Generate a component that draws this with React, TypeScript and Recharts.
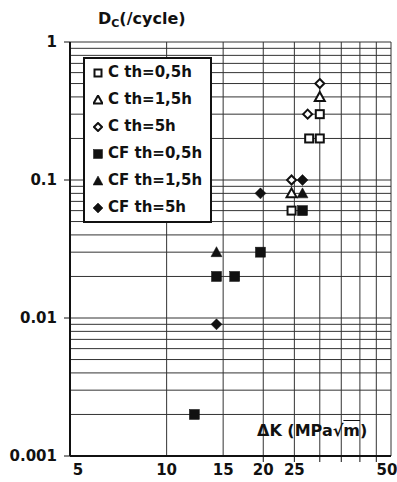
import { ScatterChart, Scatter, XAxis, YAxis, CartesianGrid, Legend } from "recharts";

// ΔK (MPa√m) vs Dc (/cycle)
const cTh05 = [
  { k: 24.5, d: 0.06 },
  { k: 27.8, d: 0.2 },
  { k: 30, d: 0.2 },
  { k: 30, d: 0.3 },
];
const cTh15 = [
  { k: 24.5, d: 0.08 },
  { k: 30, d: 0.4 },
];
const cTh5 = [
  { k: 24.5, d: 0.1 },
  { k: 27.5, d: 0.3 },
  { k: 30, d: 0.5 },
];
const cfTh05 = [
  { k: 12.2, d: 0.002 },
  { k: 14.3, d: 0.02 },
  { k: 16.3, d: 0.02 },
  { k: 19.6, d: 0.03 },
  { k: 26.5, d: 0.06 },
];
const cfTh15 = [
  { k: 14.3, d: 0.03 },
  { k: 26.5, d: 0.08 },
];
const cfTh5 = [
  { k: 14.3, d: 0.009 },
  { k: 19.6, d: 0.08 },
  { k: 26.5, d: 0.1 },
];

const xTicks = [5, 10, 15, 20, 25, 30, 35, 40, 45, 50];
const xTickLabels = [5, 10, 15, 20, 25, 50];
const xTickMarks = [20, 25, 30, 35, 40, 45];

const yTicks = [
  0.001, 0.002, 0.003, 0.004, 0.005, 0.006, 0.007, 0.008, 0.009,
  0.01, 0.02, 0.03, 0.04, 0.05, 0.06, 0.07, 0.08, 0.09,
  0.1, 0.2, 0.3, 0.4, 0.5, 0.6, 0.7, 0.8, 0.9, 1,
];
const yTickLabels = [0.001, 0.01, 0.1, 1];
const yTickText = ["0.001", "0.01", "0.1", "1"];

type Kind = "square" | "triangle" | "diamond";

const series: { name: string; data: { k: number; d: number }[]; kind: Kind; filled: boolean }[] = [
  { name: "C th=0,5h", data: cTh05, kind: "square", filled: false },
  { name: "C th=1,5h", data: cTh15, kind: "triangle", filled: false },
  { name: "C th=5h", data: cTh5, kind: "diamond", filled: false },
  { name: "CF th=0,5h", data: cfTh05, kind: "square", filled: true },
  { name: "CF th=1,5h", data: cfTh15, kind: "triangle", filled: true },
  { name: "CF th=5h", data: cfTh5, kind: "diamond", filled: true },
];

const FONT = "'DejaVu Sans', Arial, sans-serif";
const INK = "#111";

function Marker({ cx, cy, kind, filled, s = 10 }: { cx: number; cy: number; kind: Kind; filled: boolean; s?: number }) {
  const fill = filled ? INK : "#fff";
  const sw = filled ? 0.5 : 2;
  const h = s / 2;
  if (kind === "square") {
    const q = filled ? h : h - 1;
    return <rect x={cx - q} y={cy - q} width={q * 2} height={q * 2} fill={fill} stroke={INK} strokeWidth={sw} />;
  }
  if (kind === "triangle") {
    const q = filled ? h + 0.5 : h;
    return (
      <polygon
        points={`${cx},${cy - q} ${cx + q},${cy + q - 1} ${cx - q},${cy + q - 1}`}
        fill={fill}
        stroke={INK}
        strokeWidth={sw}
        strokeLinejoin="miter"
      />
    );
  }
  const q = filled ? h + 0.5 : h - 0.5;
  return (
    <polygon
      points={`${cx},${cy - q} ${cx + q},${cy} ${cx},${cy + q} ${cx - q},${cy}`}
      fill={fill}
      stroke={INK}
      strokeWidth={sw}
    />
  );
}

function XTick({ x, y, payload }: any) {
  const v = payload.value;
  return (
    <g>
      {xTickMarks.includes(v) && <line x1={x} x2={x} y1={y} y2={y + 6} stroke={INK} strokeWidth={1} />}
      {xTickLabels.includes(v) && (
        <text
          x={v === 5 ? x + 8 : v === 50 ? x - 4 : x}
          y={y + 19}
          textAnchor="middle"
          fontFamily={FONT}
          fontWeight="bold"
          fontSize={15}
          fill={INK}
        >
          {v}
        </text>
      )}
    </g>
  );
}

function YTick({ x, y, payload }: any) {
  const i = yTickLabels.indexOf(payload.value);
  if (i < 0) return <g />;
  return (
    <g>
      <line x1={x - 6} x2={x} y1={y} y2={y} stroke={INK} strokeWidth={1} />
      <text
        x={x - 13}
        y={y + 5}
        textAnchor="end"
        fontFamily={FONT}
        fontWeight="bold"
        fontSize={15}
        fill={INK}
      >
        {yTickText[i]}
      </text>
    </g>
  );
}

function LegendBox() {
  return (
    <div
      style={{
        width: 125,
        border: `2px solid ${INK}`,
        background: "#fff",
        fontFamily: FONT,
        fontWeight: "bold",
        fontSize: 15,
        color: INK,
      }}
    >
      {series.map((s) => (
        <div key={s.name} style={{ height: 27, lineHeight: "27px", display: "flex", alignItems: "center", whiteSpace: "nowrap" }}>
          <svg width={10} height={10} style={{ marginLeft: 8, marginRight: 5, flex: "none" }}>
            <Marker cx={5} cy={5} kind={s.kind} filled={s.filled} s={9} />
          </svg>
          {s.name}
        </div>
      ))}
    </div>
  );
}

export default function App() {
  return (
    <div style={{ position: "absolute", left: 0, top: 0, width: 397, height: 482, background: "#fff" }}>
      <ScatterChart width={397} height={482} margin={{ top: 42, right: 6, bottom: 0, left: 0 }}>
        <CartesianGrid stroke="#333" strokeWidth={1} />
        <XAxis
          dataKey="k"
          type="number"
          scale="log"
          domain={[5, 50]}
          ticks={xTicks}
          interval={0}
          allowDataOverflow
          height={26}
          tickLine={false}
          tickSize={0}
          tickMargin={0}
          tick={<XTick />}
          axisLine={{ stroke: INK, strokeWidth: 2 }}
        />
        <YAxis
          dataKey="d"
          type="number"
          scale="log"
          domain={[0.001, 1]}
          ticks={yTicks}
          interval={0}
          allowDataOverflow
          width={70}
          tickLine={false}
          tickSize={0}
          tickMargin={0}
          tick={<YTick />}
          axisLine={{ stroke: INK, strokeWidth: 2 }}
        />
        <Legend
          layout="vertical"
          align="center"
          verticalAlign="middle"
          content={() => <LegendBox />}
          wrapperStyle={{ position: "absolute", left: 83, top: 57, width: "auto", height: "auto" }}
        />
        {series.map((s) => (
          <Scatter
            key={s.name}
            name={s.name}
            data={s.data}
            isAnimationActive={false}
            shape={(p: any) => <Marker cx={p.cx} cy={p.cy} kind={s.kind} filled={s.filled} />}
          />
        ))}
      </ScatterChart>
      <div
        style={{
          position: "absolute",
          left: 98,
          top: 11,
          fontFamily: FONT,
          fontWeight: "bold",
          fontSize: 16,
          lineHeight: "16px",
          color: INK,
          whiteSpace: "nowrap",
        }}
      >
        D<span style={{ fontSize: 11, position: "relative", top: 3 }}>C</span>(/cycle)
      </div>
      <div
        style={{
          position: "absolute",
          left: 257,
          top: 423,
          fontFamily: FONT,
          fontWeight: "bold",
          fontSize: 16,
          lineHeight: "16px",
          color: INK,
          whiteSpace: "nowrap",
        }}
      >
        ΔK (MPa√<span style={{ textDecoration: "overline" }}>m</span>)
      </div>
    </div>
  );
}
